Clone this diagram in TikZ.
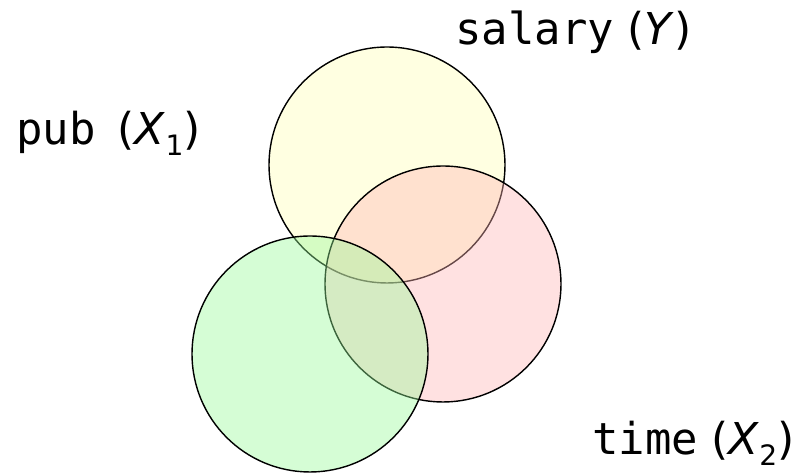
\documentclass[tikz,border=0pt]{standalone}
\usepackage{fontspec}
\setmonofont{DejaVu Sans Mono}
\newfontfamily\labelsans{DejaVu Sans}
\definecolor{setY}{RGB}{255,255,180}
\definecolor{setXtwo}{RGB}{255,180,180}
\definecolor{setXone}{RGB}{150,250,150}
\newcommand{\subidx}[1]{\raisebox{-0.25em}{\fontsize{16}{16}\selectfont #1}}
\newcommand{\varlabel}[3]{\texttt{#1}\hspace{#3}{\labelsans(#2)}}
\begin{document}
\begin{tikzpicture}[x=0.02cm,y=-0.02cm,
    venn/.style={draw=black,line width=0.8pt,fill opacity=0.4},
    varname/.style={anchor=base west,inner sep=0pt,font=\fontsize{25}{30}\selectfont}]
    \useasboundingbox (0,0) rectangle (806,475);
    \coordinate (cY)    at (387,165);
    \coordinate (cXtwo) at (443,284);
    \coordinate (cXone) at (310,354);
    \filldraw[venn,fill=setY]    (cY)    circle (2.36cm);
    \filldraw[venn,fill=setXtwo] (cXtwo) circle (2.36cm);
    \filldraw[venn,fill=setXone] (cXone) circle (2.36cm);
    \node[varname] (salary) at (455,45)  {\varlabel{salary}{\textit{Y}}{0.3em}};
    \node[varname] (pub)    at (16,145)  {\varlabel{pub}{\textit{X}\subidx{1}}{0.5em}};
    \node[varname] (time)   at (592,455) {\varlabel{time}{\textit{X}\subidx{2}}{0.3em}};
  \end{tikzpicture}
\end{document}
